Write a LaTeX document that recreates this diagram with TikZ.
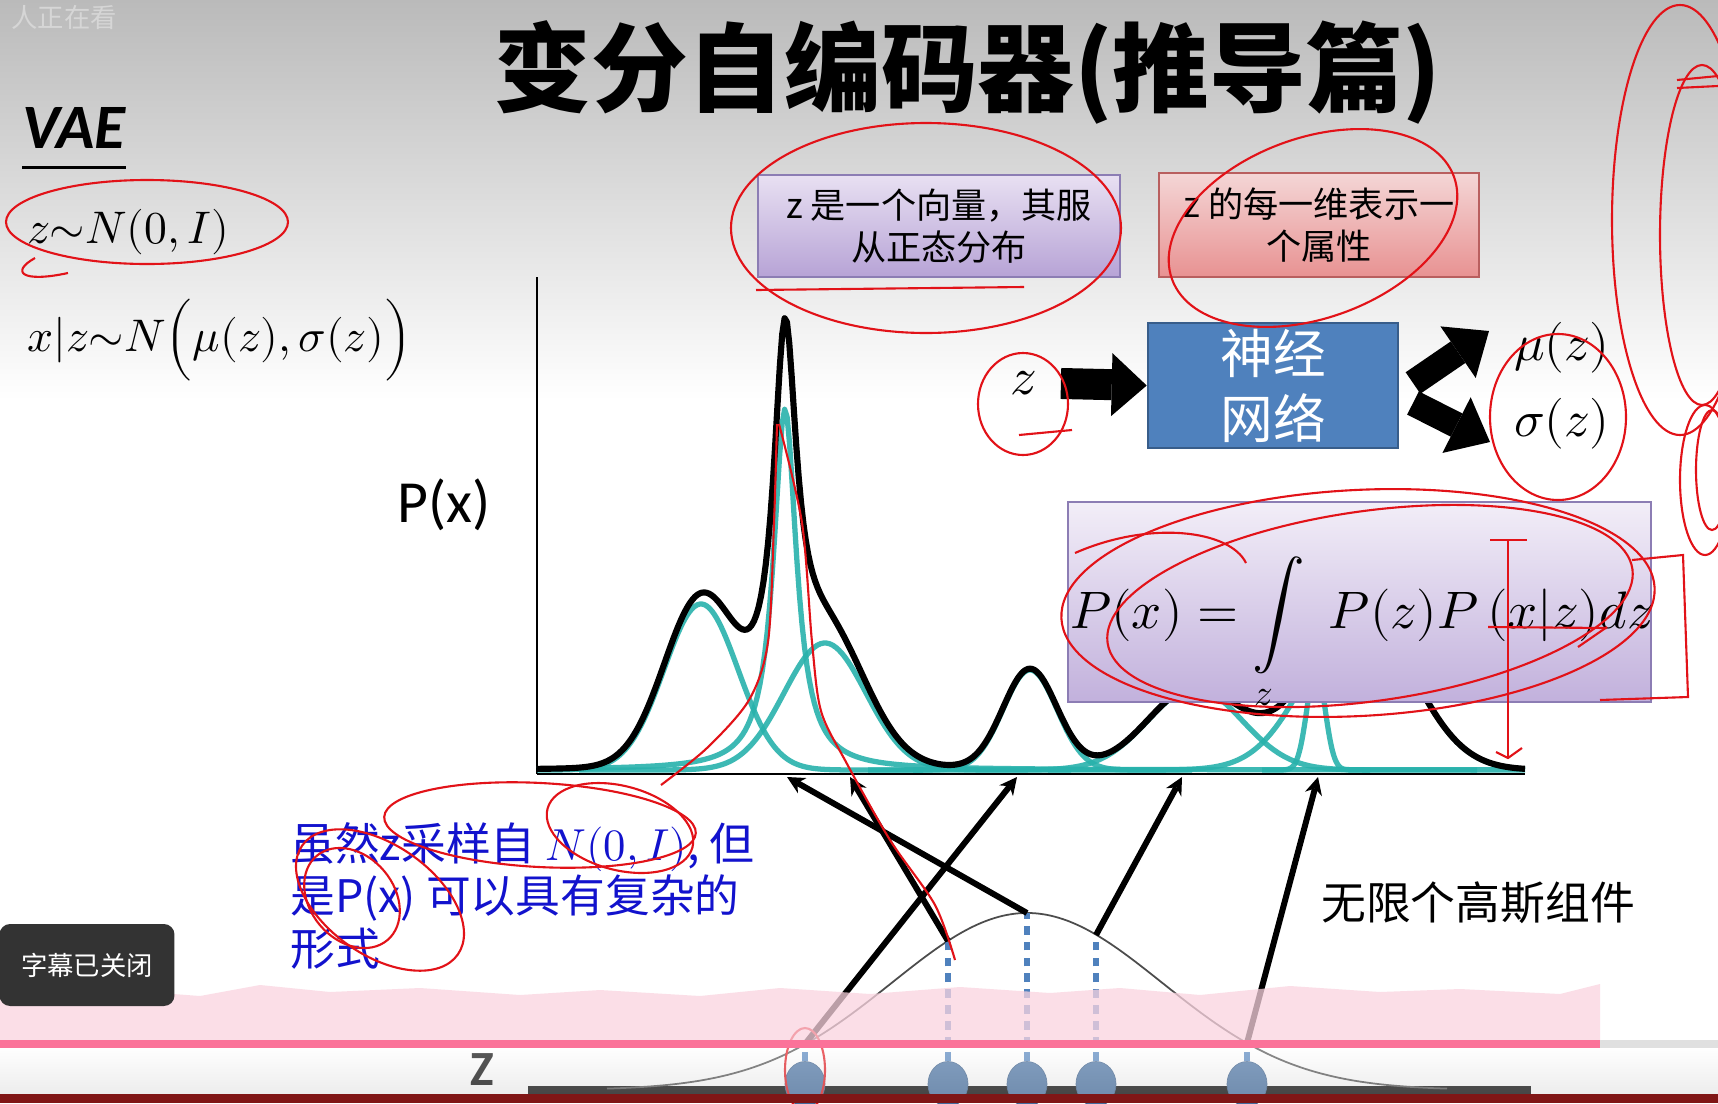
\documentclass[tikz,border=0pt]{standalone}
\usepackage{fontspec}
\usepackage{unicode-math}
\setmainfont{Carlito}
\setmathfont{Latin Modern Math}
\newfontfamily\cjk{Noto Sans CJK SC}
\usetikzlibrary{arrows.meta,shapes.geometric}

\definecolor{curveteal}{RGB}{40,178,172}
\definecolor{netblue}{RGB}{79,129,189}
\definecolor{netedge}{RGB}{56,93,138}
\definecolor{lilactop}{RGB}{232,224,242}
\definecolor{lilacbot}{RGB}{183,163,214}
\definecolor{lilacedge}{RGB}{140,125,180}
\definecolor{rosetop}{RGB}{244,214,214}
\definecolor{rosebot}{RGB}{232,146,146}
\definecolor{roseedge}{RGB}{185,95,95}
\definecolor{penred}{RGB}{226,18,24}
\definecolor{noteblue}{RGB}{18,18,205}
\definecolor{bilipink}{RGB}{251,114,153}
\definecolor{bandpink}{RGB}{250,212,224}
\definecolor{barred}{RGB}{128,22,22}

\tikzset{
  titletext/.style={inner sep=0pt, font=\cjk\bfseries\fontsize{55}{60}\selectfont},
  formula/.style={inner sep=0pt, font=\fontsize{26}{31}\selectfont},
  notebox/.style={draw=lilacedge, line width=1pt, top color=lilactop, bottom color=lilacbot,
    minimum width=7.24cm, minimum height=2.04cm, inner sep=0pt, align=center,
    font=\cjk\fontsize{20}{24}\selectfont},
  attrbox/.style={notebox, draw=roseedge, top color=rosetop, bottom color=rosebot,
    minimum width=6.4cm, minimum height=2.08cm},
  netbox/.style={draw=netedge, line width=1.5pt, fill=netblue, text=white,
    minimum width=5cm, minimum height=2.5cm, align=center,
    font=\cjk\fontsize{30}{37}\selectfont},
  intbox/.style={draw=lilacedge, line width=1pt, top color=lilactop!55!white,
    bottom color=lilacbot!85!white, minimum width=11.66cm, minimum height=4cm},
  mixcurve/.style={black, line width=3.5pt, line join=round},
  component/.style={curveteal, line width=3pt, opacity=0.9, line join=round},
  bellcurve/.style={black!70, line width=1pt},
  sampleline/.style={netblue, line width=3.4pt, dash pattern=on 5pt off 4pt},
  sampledot/.style={ellipse, fill=netblue!85!black, draw=netedge, minimum width=0.8cm,
    minimum height=0.9cm, inner sep=0pt},
  samplearrow/.style={line width=3.4pt, -{Stealth[length=10pt, width=10pt, line width=0pt]}},
  blockarrow/.style={line width=0.62cm, -{Triangle[length=0.7cm, width=1.26cm, line width=0pt]}},
  slantarrow/.style={line width=0.52cm, -{Triangle[length=0.75cm, width=1.25cm, line width=0pt]}},
  pen/.style={penred, line width=1.2pt},
  declare function={
    gs(\v,\m,\s)=exp(-min(((\v-\m)/\s)*((\v-\m)/\s)/2,30));
    lz(\v,\m,\s)=1/(1+min(((\v-\m)/\s)*((\v-\m)/\s),9000));
    mix(\v)=166*gs(\v,701,37)+361*lz(\v,785,14)+127*gs(\v,825,41)+100*gs(\v,1030,27)
      +82*gs(\v,1195,47)+102*gs(\v,1316,9)+159*gs(\v,1360,52);
  }
}

\begin{document}
\begin{tikzpicture}[x=0.02cm, y=-0.02cm]
  \useasboundingbox (0,0) rectangle (1718,1103);
  \fill[white] (0,0) rectangle (1718,1103);
  \shade[top color=black!27, bottom color=white] (0,0) rectangle (1718,400);

  % slide text
  \node[text=white!84!black, font=\cjk\fontsize{15}{18}\selectfont] (viewers) at (64,18) {人正在看};
  \node[titletext] (title) at (968,72) {变分自编码器(推导篇)};
  \node[anchor=base west, inner sep=0pt, font=\bfseries\itshape\fontsize{36}{40}\selectfont] (vae) at (22,148) {VAE};
  \draw[line width=1.6pt] ([yshift=-11pt]vae.base west) -- ([yshift=-11pt]vae.base east);
  \node[formula, anchor=base west] (prior) at (27,243) {$z{\sim}N(0,I)$};
  \node[formula, anchor=base west] (lik) at (27,351) {$x|z{\sim}N\Bigl(\mu(z),\sigma(z)\Bigr)$};
  \node[anchor=base west, inner sep=0pt, font=\fontsize{34}{40}\selectfont] (px) at (397,522) {P(x)};

  % mixture of gaussians
  \draw[line width=1pt] (537,277) -- (537,774);
  \foreach \c/\s/\a in {701/37/166, 825/41/127, 1030/27/100, 1195/47/82, 1316/9/102, 1360/52/159}
    \draw[component] plot[domain={max(537,\c-6*\s)}:{min(1525,\c+6*\s)}, samples=160] (\x, {770-\a*gs(\x,\c,\s)});
  \draw[component] plot[domain=537:1525, samples=400] (\x, {770-361*lz(\x,785,14)});
  \draw[mixcurve] plot[domain=537:1525, samples=420] (\x, {770-mix(\x)});
  \draw[line width=1.6pt] (537,774) -- (1525,774);

  % notes and network
  \node[notebox] (vecnote) at (939,226) {z 是一个向量，其服\\从正态分布};
  \node[attrbox] (attrnote) at (1319,225) {z 的每一维表示一\\个属性};
  \node[netbox] (net) at (1273,385.5) {神经\\网络};
  \node[inner sep=2pt, font=\fontsize{30}{34}\selectfont] (zin) at (1024,383) {$z$};
  \node[inner sep=0pt, font=\fontsize{29}{34}\selectfont] (mu) at (1562,348) {$\mu(z)$};
  \node[inner sep=0pt, font=\fontsize{29}{34}\selectfont] (sigma) at (1562,424) {$\sigma(z)$};
  \draw[blockarrow, shorten <=0.4cm] (zin.east) -- (net.west);
  \coordinate (mutail) at (1413,383);
  \coordinate (mutip) at (1489,331);
  \coordinate (sgtail) at (1413,403);
  \coordinate (sgtip) at (1490,442);
  \draw[slantarrow] (mutail) -- (mutip);
  \draw[slantarrow] (sgtail) -- (sgtip);

  \node[intbox] (intnote) at (1359.5,602) {};
  \node[anchor=base, inner sep=0pt, font=\fontsize{30}{36}\selectfont] (integral) at (1362,628)
    {$\displaystyle P(x)=\int\limits_{z}\;P(z)P\,(x|z)dz$};

  % sampling from the prior
  \draw[line width=4.5pt] (528,1090) -- (1531,1090);
  \node[inner sep=0pt, font=\bfseries\fontsize{28}{32}\selectfont] (zaxis) at (482,1070) {Z};
  \draw[bellcurve] plot[domain=607:1447, samples=150, smooth] (\x, {1090-177*gs(\x,1027,135)});
  \foreach \n/\x/\y in {1/805/1044, 2/948/941, 3/1027/913, 4/1096/935, 5/1247/1043} {
    \coordinate (s\n) at (\x,\y);
    \node[sampledot] (d\n) at (\x,1084) {};
    \draw[sampleline] (d\n.north) -- (s\n);
  }
  \coordinate (h1) at (787,777);
  \coordinate (h2) at (850,777);
  \coordinate (h3) at (1017,777);
  \coordinate (h4) at (1182,777);
  \coordinate (h5) at (1318,777);
  \draw[samplearrow] (s3) -- (h1);
  \draw[samplearrow] (s2) -- (h2);
  \draw[samplearrow] (s1) -- (h3);
  \draw[samplearrow] (s4) -- (h4);
  \draw[samplearrow] (s5) -- (h5);

  \node[anchor=north west, inner sep=0pt, align=left, text=noteblue,
    font=\cjk\fontsize{25.5}{29.8}\selectfont] (bluenote) at (290,822)
    {虽然z采样自 $N(0,I)$, 但\\是P(x) 可以具有复杂的\\形式};
  \node[font=\cjk\fontsize{25.5}{30}\selectfont] (inf) at (1478,903) {无限个高斯组件};

  % handwriting
  \draw[pen] (147,222) ellipse [x radius=141, y radius=42];
  \draw[pen] (35,258) .. controls (10,272) and (22,283) .. (68,273);
  \draw[pen] (926,228) ellipse [x radius=195, y radius=105];
  \draw[pen] (756,290) -- (1024,287);
  \draw[pen] (1313,228) ellipse [x radius=150, y radius=90, rotate=20];
  \draw[pen] (1023,404) ellipse [x radius=45, y radius=51];
  \draw[pen] (1019,435) -- (1072,430);
  \draw[pen] (1558,417) ellipse [x radius=68, y radius=83];
  \draw[pen] (1358,603) ellipse [x radius=297, y radius=113, rotate=3];
  \draw[pen] (1370,606) ellipse [x radius=265, y radius=95, rotate=8];
  \draw[pen] (1075,553) .. controls (1150,520) and (1230,530) .. (1246,563);
  \draw[pen] (1488,627) -- (1607,628);
  \draw[pen] (1578,647) -- (1607,627);
  \draw[pen] (1490,540) -- (1527,540);
  \draw[pen] (1508,540) -- (1508,758);
  \draw[pen] (1496,752) -- (1508,758) -- (1522,748);
  \draw[pen] (1632,560) -- (1683,555) -- (1688,697) -- (1600,700);
  \draw[pen] (1680,220) ellipse [x radius=68, y radius=215];
  \draw[pen] (1702,235) ellipse [x radius=42, y radius=170];
  \draw[pen] (1705,480) ellipse [x radius=25, y radius=75];
  \draw[pen] (1712,470) ellipse [x radius=16, y radius=60];
  \draw[pen] (1677,80) -- (1718,76);
  \draw[pen] (1677,88) -- (1718,86);
  \draw[pen] (540,825) ellipse [x radius=156, y radius=42, rotate=-3];
  \draw[pen] (620,828) ellipse [x radius=75, y radius=42, rotate=-15];
  \draw[pen] (380,900) ellipse [x radius=95, y radius=55, rotate=-35];
  \draw[pen] (352,898) ellipse [x radius=55, y radius=42, rotate=-50];
  \draw[pen] plot[smooth] coordinates {(777,424) (774,523) (768,642) (749,700) (707,748) (661,785)};
  \draw[pen] plot[smooth] coordinates {(779,424) (802,523) (812,642) (821,711) (846,762) (890,840) (935,905) (955,960)};
  \draw[pen] (805,1070) ellipse [x radius=20, y radius=42];

  % player overlay
  \fill[bandpink, opacity=0.75] (0,1040) -- (0,995) -- (40,993) -- (120,990) -- (200,996) -- (260,985)
    -- (330,992) -- (420,988) -- (520,995) -- (600,990) -- (700,996) -- (780,988) -- (870,994)
    -- (960,987) -- (1050,993) -- (1120,988) -- (1200,995) -- (1290,986) -- (1380,992)
    -- (1460,989) -- (1560,994) -- (1600,984) -- (1600,1040) -- cycle;
  \shade[top color=white, bottom color=black!20, opacity=0.35] (0,1048) rectangle (1718,1094);
  \draw[bilipink, line width=4.5pt] (0,1044) -- (1600,1044);
  \draw[black!12, line width=4.5pt] (1600,1044) -- (1718,1044);
  \fill[barred] (0,1094) rectangle (1718,1103);
  \node[fill=black!80, rounded corners=6pt, minimum width=3.5cm, minimum height=1.64cm,
    text=white, font=\cjk\fontsize{15}{18}\selectfont] (subs) at (87,965) {字幕已关闭};
\end{tikzpicture}
\end{document}
